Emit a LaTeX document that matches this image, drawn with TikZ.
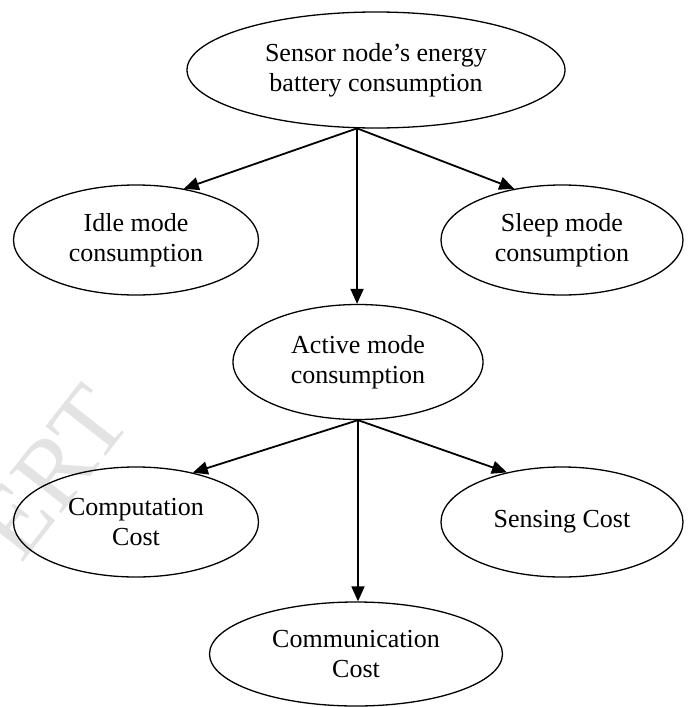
\documentclass[tikz,border=0pt]{standalone}
\usepackage{fontspec}
\setmainfont{Liberation Serif}
\usetikzlibrary{shapes.geometric,arrows.meta}
\tikzset{
  bubble/.style={draw, line width=1.3pt, ellipse, inner sep=0pt, align=center,
    font=\fontsize{26}{30}\selectfont},
  link/.style={line width=1.8pt, -{Triangle[length=15pt,width=13pt]}},
  wmark/.style={text=gray!22, font=\fontsize{100}{100}\selectfont, rotate=52, inner sep=0pt}
}
\begin{document}
\begin{tikzpicture}[x=1pt,y=-1pt]
\useasboundingbox (0,0) rectangle (689,707);
\clip (0,0) rectangle (689,707);
\fill[white] (0,0) rectangle (689,707);
\node[wmark] (wm) at (52,472) {ERT};
\node[bubble, minimum width=378pt, minimum height=116pt] (top) at (376,70) {Sensor node’s energy\\battery consumption};
\node[bubble, minimum width=245pt, minimum height=110pt] (idle) at (136,240) {Idle mode\\consumption};
\node[bubble, minimum width=242pt, minimum height=110pt] (sleep) at (562,240) {Sleep mode\\consumption};
\node[bubble, minimum width=250pt, minimum height=115pt] (active) at (358,362) {Active mode\\consumption};
\node[bubble, minimum width=245pt, minimum height=110pt] (comp) at (136,522) {Computation\\Cost};
\node[bubble, minimum width=242pt, minimum height=110pt] (sens) at (562,522) {Sensing Cost};
\node[bubble, minimum width=293pt, minimum height=104pt] (comm) at (356,654) {Communication\\Cost};
\coordinate (t0) at (top.252);
\draw[link] (t0) -- (idle.47);
\draw[link] (t0) -- (sleep.133);
\draw[link] (t0) -- (t0 |- active.north);
\draw[link] (active.south) -- (comp.41);
\draw[link] (active.south) -- (sens.138);
\draw[link] (active.south) -- (active.south |- comm.north);
\end{tikzpicture}
\end{document}
